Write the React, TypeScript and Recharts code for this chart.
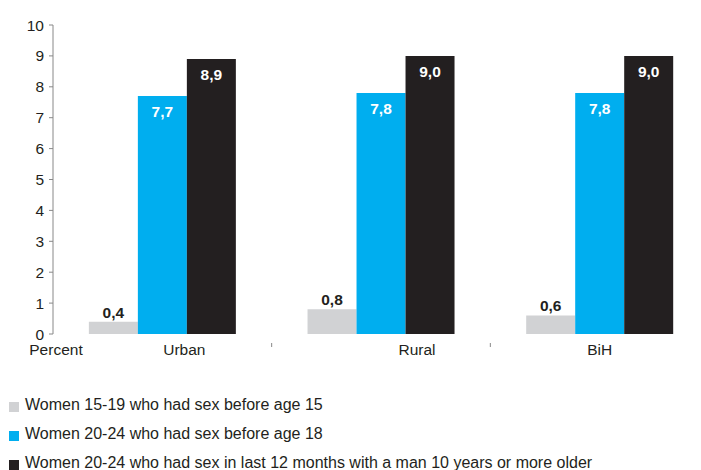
import React from "react";
import { BarChart, Bar, XAxis, YAxis, LabelList } from "recharts";

const categories = ["Urban", "Rural", "BiH"];
const before15 = [0.4, 0.8, 0.6];
const before18 = [7.7, 7.8, 7.8];
const olderMan = [8.9, 9.0, 9.0];
const yTicks = [0, 1, 2, 3, 4, 5, 6, 7, 8, 9, 10];
const seriesNames = [
  "Women 15-19 who had sex before age 15",
  "Women 20-24 who had sex before age 18",
  "Women 20-24 who had sex in last 12 months with a man 10 years or more older",
];
const colors = ["#d1d2d4", "#00aeef", "#231f20"];

const data = categories.map((c, i) => ({
  name: c,
  a: before15[i],
  b: before18[i],
  c: olderMan[i],
}));

const FONT = "'Liberation Sans', Arial, sans-serif";
const fmt = (v: any) => Number(v).toFixed(1).replace(".", ",");

const CHART_W = 701;
const PLOT_LEFT = 45;
const PLOT_W = CHART_W - PLOT_LEFT;
const BAND = PLOT_W / categories.length;
const labelShift = [22, 36, 0];

const CatTick = (props: any) => {
  const { x, y, payload, index } = props;
  const i = index ?? payload.index;
  return (
    <g>
      <text
        x={x + (labelShift[i] || 0)}
        y={y + 13}
        textAnchor="middle"
        fontSize={15.5}
        fontFamily={FONT}
        fill="#231f20"
      >
        {payload.value}
      </text>
      {i < categories.length - 1 && (
        <line x1={x + BAND / 2} x2={x + BAND / 2} y1={y + 1} y2={y + 5} stroke="#888" strokeWidth={1} />
      )}
      {i === 0 && (
        <text x={PLOT_LEFT + 3} y={y + 13} textAnchor="middle" fontSize={15.5} fontFamily={FONT} fill="#231f20">
          Percent
        </text>
      )}
    </g>
  );
};

export default function App() {
  return (
    <div style={{ width: 693, height: 462, overflow: "hidden", position: "relative", fontFamily: FONT }}>
      <BarChart
        width={CHART_W}
        height={360}
        data={data}
        margin={{ top: 17, right: 0, left: 0, bottom: 4 }}
        barCategoryGap="16.4%"
        barGap={0}
      >
        <XAxis
          dataKey="name"
          axisLine={false}
          tickLine={false}
          height={30}
          tick={<CatTick />}
          interval={0}
        />
        <YAxis
          width={45}
          domain={[0, 10]}
          ticks={yTicks}
          interval={0}
          tickSize={4}
          tickMargin={5}
          axisLine={{ stroke: "#888" }}
          tickLine={{ stroke: "#888" }}
          tick={{ fontSize: 15.5, fill: "#231f20", fontFamily: FONT }}
        />
        <Bar dataKey="a" fill={colors[0]} isAnimationActive={false}>
          <LabelList
            dataKey="a"
            position="top"
            offset={4}
            formatter={fmt}
            style={{ fontSize: 15.5, fontWeight: "bold", fill: "#231f20", fontFamily: FONT }}
          />
        </Bar>
        <Bar dataKey="b" fill={colors[1]} isAnimationActive={false}>
          <LabelList
            dataKey="b"
            position="insideTop"
            offset={10}
            formatter={fmt}
            style={{ fontSize: 15.5, fontWeight: "bold", fill: "#ffffff", fontFamily: FONT }}
          />
        </Bar>
        <Bar dataKey="c" fill={colors[2]} isAnimationActive={false}>
          <LabelList
            dataKey="c"
            position="insideTop"
            offset={10}
            formatter={fmt}
            style={{ fontSize: 15.5, fontWeight: "bold", fill: "#ffffff", fontFamily: FONT }}
          />
        </Bar>
      </BarChart>
      {seriesNames.map((n, i) => (
        <div
          key={n}
          style={{
            position: "absolute",
            left: 1,
            top: 387 + i * 29,
            height: 20,
            display: "flex",
            alignItems: "center",
            fontSize: 16,
            color: "#231f20",
            whiteSpace: "nowrap",
          }}
        >
          <span style={{ display: "inline-block", width: 10, height: 10, background: colors[i], marginRight: 6, marginTop: 4 }} />
          {n}
        </div>
      ))}
    </div>
  );
}
